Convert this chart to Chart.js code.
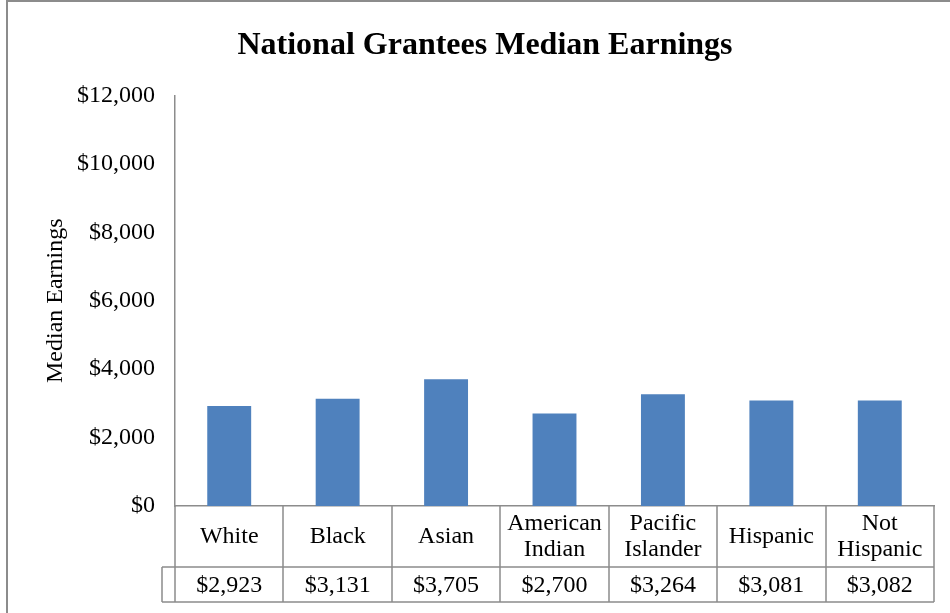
<!DOCTYPE html>
<html>
<head>
<meta charset="utf-8">
<script src="https://cdn.jsdelivr.net/npm/chart.js@4.4.0/dist/chart.umd.min.js"></script>
<style>
html, body { margin: 0; padding: 0; background: #fff; }
#wrap { width: 950px; height: 613px; }
</style>
</head>
<body>
<div id="wrap"><canvas id="chart"></canvas></div>
<script>
var categories = [['White'], ['Black'], ['Asian'], ['American', 'Indian'], ['Pacific', 'Islander'], ['Hispanic'], ['Not', 'Hispanic']];
var earnings = [2923, 3131, 3705, 2700, 3264, 3081, 3082];
var yTicks = [0, 2000, 4000, 6000, 8000, 10000, 12000];

var serif = "'Liberation Serif', 'Times New Roman', serif";
var lineColor = '#8c8c8c';

function money(v) {
    return '$' + v.toLocaleString('en-US');
}

// white page, grey frame on the left and top (the rest is cut off)
var frame = {
    id: 'frame',
    beforeDraw: function(chart) {
        var ctx = chart.ctx;
        ctx.save();
        ctx.fillStyle = '#fff';
        ctx.fillRect(0, 0, chart.width, chart.height);
        ctx.strokeStyle = lineColor;
        ctx.lineWidth = 2;
        ctx.beginPath();
        ctx.moveTo(7, chart.height);
        ctx.lineTo(7, 1);
        ctx.lineTo(chart.width, 1);
        ctx.stroke();
        ctx.restore();
    }
};

// data table under the plot, columns follow the x scale
var dataTable = {
    id: 'dataTable',
    afterDraw: function(chart) {
        var ctx = chart.ctx, x = chart.scales.x, area = chart.chartArea;
        var top = area.bottom, mid = top + 61, bottom = mid + 35;
        var half = (x.getPixelForValue(1) - x.getPixelForValue(0)) / 2;
        var stub = area.left - 13;
        ctx.save();
        ctx.strokeStyle = lineColor;
        ctx.lineWidth = 1.5;
        ctx.beginPath();
        for (var i = 0; i <= categories.length; i++) {
            var bx = Math.round(x.getPixelForValue(Math.min(i, categories.length - 1)) + (i < categories.length ? -half : half));
            ctx.moveTo(bx, top);
            ctx.lineTo(bx, bottom);
        }
        ctx.moveTo(stub, Math.round(mid));
        ctx.lineTo(area.right, Math.round(mid));
        ctx.moveTo(stub, Math.round(bottom));
        ctx.lineTo(area.right, Math.round(bottom));
        ctx.moveTo(Math.round(stub), mid);
        ctx.lineTo(Math.round(stub), bottom);
        ctx.stroke();

        ctx.fillStyle = '#000';
        ctx.font = '24px ' + serif;
        ctx.textAlign = 'center';
        ctx.textBaseline = 'middle';
        categories.forEach(function(lines, i) {
            var cx = x.getPixelForValue(i);
            var cy = (top + mid) / 2 - (lines.length - 1) * 13;
            lines.forEach(function(t, j) {
                ctx.fillText(t, cx, cy + j * 26);
            });
            ctx.fillText(money(earnings[i]), cx, (mid + bottom) / 2 + 1);
        });
        ctx.restore();
    }
};

var ctx = document.getElementById('chart').getContext('2d');
var chart = new Chart(ctx, {
    type: 'bar',
    data: {
        labels: categories,
        datasets: [{
            label: 'Median Earnings',
            data: earnings,
            backgroundColor: '#4f81bd',
            categoryPercentage: 1,
            barPercentage: 0.405
        }]
    },
    options: {
        responsive: true,
        maintainAspectRatio: false,
        animation: false,
        layout: {
            padding: { left: 36, right: 16, top: 0, bottom: 0 }
        },
        plugins: {
            legend: { display: false },
            tooltip: { enabled: false },
            title: {
                display: true,
                text: 'National Grantees Median Earnings',
                color: '#000',
                font: { family: serif, size: 32, weight: 'bold' },
                padding: { top: 27, bottom: 30 }
            }
        },
        scales: {
            x: {
                grid: { display: false },
                border: { display: true, color: lineColor, width: 1.5 },
                ticks: { display: false },
                afterFit: function(s) { s.height = 107; }
            },
            y: {
                min: 0,
                max: 12000,
                afterBuildTicks: function(s) {
                    s.ticks = yTicks.map(function(v) { return { value: v }; });
                },
                grid: { display: false, drawTicks: false },
                border: { display: true, color: lineColor, width: 1.5 },
                ticks: {
                    color: '#000',
                    padding: 20,
                    font: { family: serif, size: 24 },
                    callback: function(v) { return money(v); }
                },
                title: {
                    display: true,
                    text: 'Median Earnings',
                    color: '#000',
                    font: { family: serif, size: 24 },
                    padding: { top: 5, bottom: 0 }
                },
                afterFit: function(s) { s.width = 139; }
            }
        }
    },
    plugins: [frame, dataTable]
});
</script>
</body>
</html>
